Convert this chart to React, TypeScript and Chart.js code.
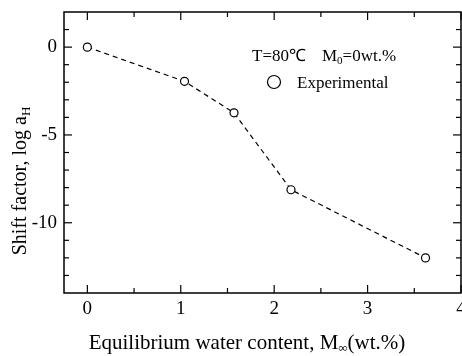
import React, { useEffect, useRef } from "react";
import { Chart, registerables } from "chart.js";

Chart.register(...registerables);

// ---- data ----
const waterContent = [0, 1.04, 1.57, 2.18, 3.62];
const shiftFactor = [0, -1.95, -3.74, -8.12, -12.0];

const xMajorTicks = [0, 1, 2, 3, 4];
const xMinorTicks = [0.5, 1.5, 2.5, 3.5];
const yMajorTicks = [0, -5, -10];
const yMinorTicks = [1, -1, -2, -3, -4, -6, -7, -8, -9, -11, -12, -13];

const xTitleMain = "Equilibrium water content, M";
const xTitleSub = "\u221e";
const xTitleTail = "(wt.%)";
const yTitleMain = "Shift factor, log a";
const yTitleSub = "H";
const noteTemp = "T=80\u2103";
const noteM = "M";
const noteMSub = "0";
const noteMTail = "=0wt.%";
const legendLabel = "Experimental";

const SERIF = "'Liberation Serif', 'Times New Roman', serif";

const decorPlugin = {
  id: "decor",
  afterDraw(chart: any) {
    const ctx = chart.ctx as CanvasRenderingContext2D;
    const { left, right, top, bottom } = chart.chartArea;
    const xs = chart.scales.x;
    const ys = chart.scales.y;
    ctx.save();
    ctx.strokeStyle = "#000";
    ctx.fillStyle = "#000";

    // frame
    ctx.lineWidth = 1.5;
    ctx.strokeRect(left, top, right - left, bottom - top);

    // inward ticks
    ctx.lineWidth = 1.2;
    const tick = (x1: number, y1: number, x2: number, y2: number) => {
      ctx.beginPath();
      ctx.moveTo(x1, y1);
      ctx.lineTo(x2, y2);
      ctx.stroke();
    };
    xMajorTicks.forEach((v) => {
      const px = xs.getPixelForValue(v);
      tick(px, bottom, px, bottom - 8);
      tick(px, top, px, top + 8);
    });
    xMinorTicks.forEach((v) => {
      const px = xs.getPixelForValue(v);
      tick(px, bottom, px, bottom - 5);
      tick(px, top, px, top + 5);
    });
    yMajorTicks.forEach((v) => {
      const py = ys.getPixelForValue(v);
      tick(left, py, left + 8, py);
      tick(right, py, right - 8, py);
    });
    yMinorTicks.forEach((v) => {
      const py = ys.getPixelForValue(v);
      tick(left, py, left + 5, py);
      tick(right, py, right - 5, py);
    });

    ctx.textBaseline = "alphabetic";
    ctx.textAlign = "left";

    // x title
    const bigX = `21px ${SERIF}`;
    const smallX = `13px ${SERIF}`;
    ctx.font = bigX;
    const w1 = ctx.measureText(xTitleMain).width;
    const w3 = ctx.measureText(xTitleTail).width;
    ctx.font = smallX;
    const w2 = ctx.measureText(xTitleSub).width;
    const total = w1 + w2 + w3;
    const x0 = 247 - total / 2;
    const xb = 349;
    ctx.font = bigX;
    ctx.fillText(xTitleMain, x0, xb);
    ctx.font = smallX;
    ctx.fillText(xTitleSub, x0 + w1, xb + 3);
    ctx.font = bigX;
    ctx.fillText(xTitleTail, x0 + w1 + w2, xb);

    // y title (rotated)
    const bigY = `20px ${SERIF}`;
    const smallY = `13px ${SERIF}`;
    ctx.save();
    ctx.translate(26, 181);
    ctx.rotate(-Math.PI / 2);
    ctx.font = bigY;
    const y1w = ctx.measureText(yTitleMain).width;
    ctx.font = smallY;
    const y2w = ctx.measureText(yTitleSub).width;
    const yt = y1w + y2w;
    ctx.font = bigY;
    ctx.fillText(yTitleMain, -yt / 2, 0);
    ctx.font = smallY;
    ctx.fillText(yTitleSub, -yt / 2 + y1w, 4);
    ctx.restore();

    // annotation
    const note = `17px ${SERIF}`;
    const noteSmall = `11px ${SERIF}`;
    ctx.font = note;
    ctx.fillText(noteTemp, 252, 61);
    const mx = 322;
    ctx.fillText(noteM, mx, 61);
    const mw = ctx.measureText(noteM).width;
    ctx.font = noteSmall;
    ctx.fillText(noteMSub, mx + mw, 64);
    const sw = ctx.measureText(noteMSub).width;
    ctx.font = note;
    ctx.fillText(noteMTail, mx + mw + sw, 61);

    // legend
    ctx.lineWidth = 1.2;
    ctx.beginPath();
    ctx.arc(274, 82, 6.5, 0, Math.PI * 2);
    ctx.stroke();
    ctx.fillText(legendLabel, 297, 88);

    ctx.restore();
  },
};

export default function App() {
  const ref = useRef<HTMLCanvasElement | null>(null);

  useEffect(() => {
    document.body.style.margin = "0";
    const canvas = ref.current;
    if (!canvas) return;
    const chart = new Chart(canvas, {
      type: "scatter",
      data: {
        datasets: [
          {
            label: legendLabel,
            data: waterContent.map((x, i) => ({ x, y: shiftFactor[i] })),
            showLine: true,
            borderColor: "#000",
            borderWidth: 1.2,
            borderDash: [5, 4],
            pointRadius: 4,
            pointBorderWidth: 1.2,
            pointBackgroundColor: "#fff",
            pointBorderColor: "#000",
            fill: false,
          },
        ],
      },
      options: {
        responsive: false,
        animation: false,
        devicePixelRatio: 1,
        layout: { autoPadding: false, padding: { left: 0, right: 1, top: 12, bottom: 0 } },
        plugins: {
          legend: { display: false },
          tooltip: { enabled: false },
          title: { display: false },
        },
        scales: {
          x: {
            type: "linear",
            min: -0.25,
            max: 4,
            grid: { display: false, drawTicks: false },
            border: { display: false },
            ticks: {
              color: "#000",
              font: { family: SERIF, size: 19 },
              padding: 5,
              maxRotation: 0,
              callback: (v: any) => String(v),
            },
            afterBuildTicks: (scale: any) => {
              scale.ticks = xMajorTicks.map((v) => ({ value: v }));
            },
            afterFit: (scale: any) => {
              scale.height = 63;
              scale.paddingLeft = 0;
              scale.paddingRight = 0;
            },
          },
          y: {
            type: "linear",
            min: -14,
            max: 2,
            grid: { display: false, drawTicks: false },
            border: { display: false },
            ticks: {
              color: "#000",
              font: { family: SERIF, size: 19 },
              padding: 7,
              callback: (v: any) => String(v),
            },
            afterBuildTicks: (scale: any) => {
              scale.ticks = yMajorTicks.map((v) => ({ value: v }));
            },
            afterFit: (scale: any) => {
              scale.width = 64;
              scale.paddingTop = 0;
              scale.paddingBottom = 0;
            },
          },
        },
      },
      plugins: [decorPlugin],
    } as any);
    return () => chart.destroy();
  }, []);

  return (
    <div style={{ width: 462, height: 356, background: "#fff" }}>
      <canvas ref={ref} width={462} height={356} style={{ display: "block" }} />
    </div>
  );
}
